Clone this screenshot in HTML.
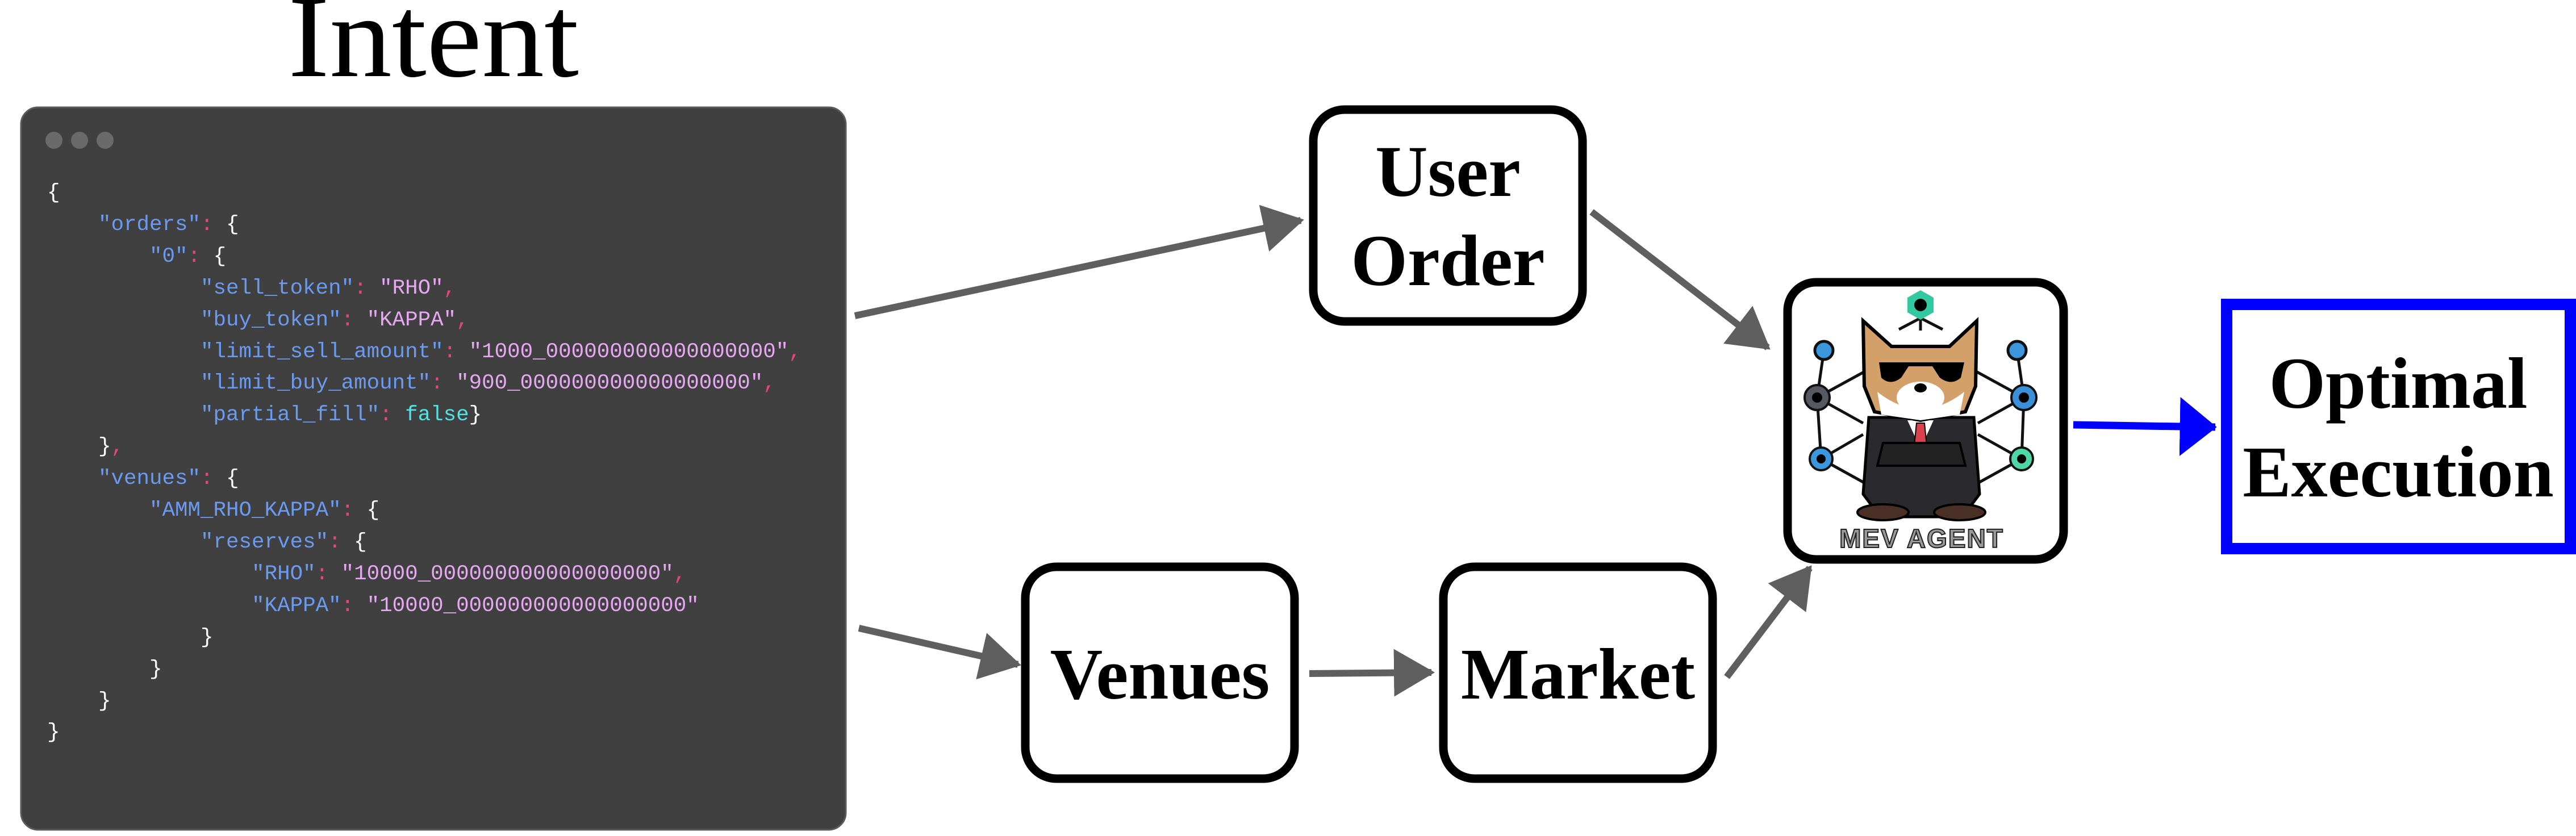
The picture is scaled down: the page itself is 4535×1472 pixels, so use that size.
<!DOCTYPE html>
<html><head><meta charset="utf-8"><style>
html,body{margin:0;padding:0;background:#fff;}
body{width:4535px;height:1472px;overflow:hidden;position:relative;}
.code{position:absolute;left:83px;top:313px;font-family:"Liberation Mono",monospace;font-size:37.5px;line-height:55.9px;white-space:pre;color:#fff;}
.k{color:#6b9bf0}.c{color:#e8457f}.s{color:#e7a8f2}.b{color:#4fe3e3}
</style></head><body>
<svg width="4535" height="1472" style="position:absolute;left:0;top:0">
<defs>
<marker id="ag" markerWidth="6" markerHeight="7" refX="5.5" refY="3.5" orient="auto" markerUnits="strokeWidth"><path d="M0,0 L6,3.5 L0,7 Z" fill="#5f5f5f"/></marker>
<marker id="ab" markerWidth="5" markerHeight="8" refX="4.8" refY="4" orient="auto" markerUnits="strokeWidth"><path d="M0,0 L5,4 L0,8 Z" fill="#0000ff"/></marker>
</defs>
<text x="507" y="134" font-family="Liberation Serif" font-size="206" textLength="512" lengthAdjust="spacingAndGlyphs">Intent</text>
<rect x="37" y="189" width="1452" height="1272" rx="30" fill="#404040" stroke="#5a5a5a" stroke-width="3"/>
<circle cx="95" cy="247" r="15" fill="#6a6a6a"/><circle cx="140" cy="247" r="15" fill="#6a6a6a"/><circle cx="185" cy="247" r="15" fill="#6a6a6a"/>

<g stroke="#000" stroke-width="15" fill="#fff">
<rect x="2312" y="193" width="474" height="373" rx="55"/>
<rect x="1805" y="998" width="474" height="373" rx="55"/>
<rect x="2541" y="998" width="474" height="373" rx="55"/>
<rect x="3147" y="497" width="486" height="488" rx="50"/>
</g>
<rect x="3920" y="536" width="605" height="430" fill="#fff" stroke="#0000ff" stroke-width="20"/>
<g font-family="Liberation Serif" font-weight="bold" font-size="128" text-anchor="middle">
<text x="2549" y="345">User</text><text x="2549" y="502">Order</text>
<text x="2042" y="1230">Venues</text><text x="2778" y="1230">Market</text>
<text x="4222" y="718">Optimal</text><text x="4222" y="874">Execution</text>
</g>

<g stroke="#5f5f5f" stroke-width="12" fill="none">
<line x1="1505" y1="556" x2="2290" y2="388" marker-end="url(#ag)"/>
<line x1="1512" y1="1106" x2="1792" y2="1170" marker-end="url(#ag)"/>
<line x1="2305" y1="1186" x2="2520" y2="1184" marker-end="url(#ag)"/>
<line x1="3040" y1="1192" x2="3186" y2="1000" marker-end="url(#ag)"/>
<line x1="2802" y1="373" x2="3112" y2="612" marker-end="url(#ag)"/>
</g>
<line x1="3650" y1="748" x2="3900" y2="752" stroke="#0000ff" stroke-width="13" marker-end="url(#ab)"/>

<g transform="translate(3140,490)">
<g stroke="#111" stroke-width="5" fill="none">
<line x1="71" y1="127" x2="59" y2="210"/><line x1="59" y1="210" x2="66" y2="318"/>
<line x1="411" y1="127" x2="423" y2="210"/><line x1="423" y1="210" x2="419" y2="318"/>
<line x1="59" y1="210" x2="145" y2="163"/><line x1="59" y1="210" x2="140" y2="255"/>
<line x1="66" y1="318" x2="140" y2="275"/><line x1="66" y1="318" x2="160" y2="370"/>
<line x1="423" y1="210" x2="337" y2="163"/><line x1="423" y1="210" x2="342" y2="255"/>
<line x1="419" y1="318" x2="342" y2="275"/><line x1="419" y1="318" x2="325" y2="370"/>
<line x1="241" y1="60" x2="241" y2="92"/><line x1="241" y1="70" x2="203" y2="90"/><line x1="241" y1="70" x2="280" y2="90"/>
</g>
<polygon points="241,21 264,34 264,60 241,73 218,60 218,34" fill="#33c9a0"/><circle cx="241" cy="47" r="11" fill="#000"/>
<circle cx="71" cy="127" r="16" fill="#3b96db" stroke="#111" stroke-width="5"/>
<circle cx="411" cy="127" r="16" fill="#3b96db" stroke="#111" stroke-width="5"/>
<circle cx="59" cy="210" r="22" fill="#555a62" stroke="#111" stroke-width="4"/><circle cx="59" cy="210" r="9" fill="#000"/>
<circle cx="423" cy="210" r="22" fill="#3b8fd8" stroke="#111" stroke-width="4"/><circle cx="423" cy="210" r="9" fill="#000"/>
<circle cx="66" cy="318" r="20" fill="#3b96db" stroke="#111" stroke-width="4"/><circle cx="66" cy="318" r="8" fill="#000"/>
<circle cx="419" cy="318" r="20" fill="#4fd6a6" stroke="#111" stroke-width="4"/><circle cx="419" cy="318" r="8" fill="#000"/>
<path d="M150,245 L335,245 L345,380 L330,400 L318,420 L170,420 L155,400 L140,380 Z" fill="#2a2a2e" stroke="#000" stroke-width="5"/>
<ellipse cx="175" cy="412" rx="45" ry="14" fill="#4a2f25" stroke="#000" stroke-width="4"/>
<ellipse cx="310" cy="412" rx="45" ry="14" fill="#4a2f25" stroke="#000" stroke-width="4"/>
<polygon points="218,250 241,300 264,250" fill="#fff"/>
<polygon points="234,255 248,255 252,295 241,305 230,295" fill="#d9414e" stroke="#000" stroke-width="2"/>
<path d="M175,290 L310,290 L320,330 L165,330 Z" fill="#222" stroke="#000" stroke-width="4"/>
<path d="M140,75 L190,120 L292,120 L340,75 L338,190 L320,235 L241,250 L160,235 L142,190 Z" fill="#d4a06a" stroke="#000" stroke-width="6"/>
<path d="M165,200 Q241,260 318,200 L310,240 L241,250 L172,240 Z" fill="#fff"/>
<ellipse cx="241" cy="210" rx="42" ry="28" fill="#fff"/>
<path d="M168,148 L318,148 L312,175 Q295,190 275,175 L262,155 L220,155 L207,175 Q188,190 172,175 Z" fill="#000"/>
<ellipse cx="241" cy="193" rx="11" ry="8" fill="#000"/>
<text x="243" y="474" text-anchor="middle" font-family="Liberation Sans" font-weight="bold" font-size="46" fill="#999" stroke="#222" stroke-width="2" letter-spacing="2">MEV  AGENT</text>
</g>
</svg>
<div class="code">{
    <span class="k">"orders"</span><span class="c">:</span> {
        <span class="k">"0"</span><span class="c">:</span> {
            <span class="k">"sell_token"</span><span class="c">:</span> <span class="s">"RHO"</span><span class="c">,</span>
            <span class="k">"buy_token"</span><span class="c">:</span> <span class="s">"KAPPA"</span><span class="c">,</span>
            <span class="k">"limit_sell_amount"</span><span class="c">:</span> <span class="s">"1000_000000000000000000"</span><span class="c">,</span>
            <span class="k">"limit_buy_amount"</span><span class="c">:</span> <span class="s">"900_000000000000000000"</span><span class="c">,</span>
            <span class="k">"partial_fill"</span><span class="c">:</span> <span class="b">false</span>}
    }<span class="c">,</span>
    <span class="k">"venues"</span><span class="c">:</span> {
        <span class="k">"AMM_RHO_KAPPA"</span><span class="c">:</span> {
            <span class="k">"reserves"</span><span class="c">:</span> {
                <span class="k">"RHO"</span><span class="c">:</span> <span class="s">"10000_000000000000000000"</span><span class="c">,</span>
                <span class="k">"KAPPA"</span><span class="c">:</span> <span class="s">"10000_000000000000000000"</span>
            }
        }
    }
}</div>
</body></html>
